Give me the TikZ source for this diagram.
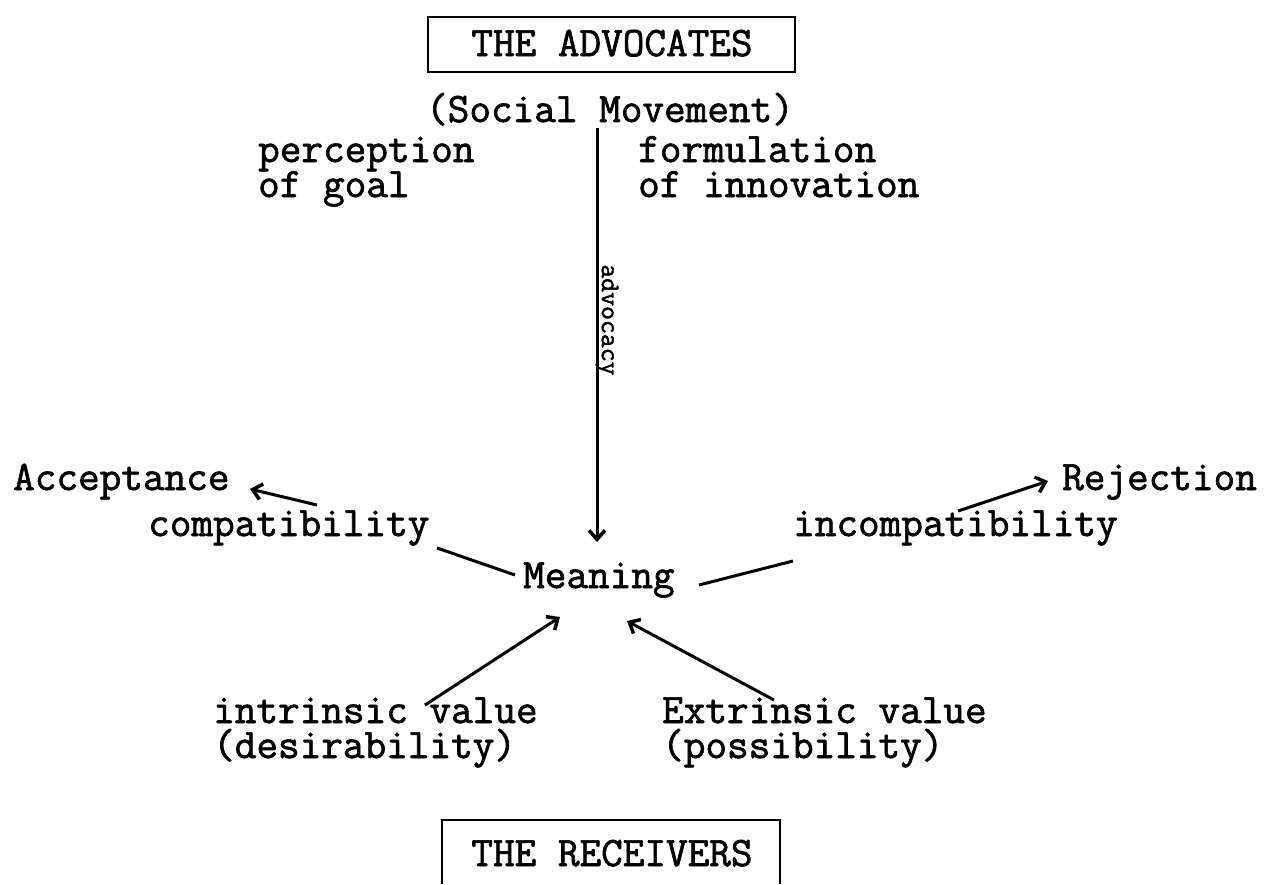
\documentclass[tikz,border=0pt]{standalone}
\usepackage{fontspec}
\usetikzlibrary{arrows.meta}
\newfontfamily\tw{Latin Modern Mono}[FakeBold=1.6]
\newcommand\twbig{\tw\fontsize{42}{35}\selectfont\lineskiplimit-100pt\relax\lineskip0pt\relax}
\begin{document}
\begin{tikzpicture}[x=1pt,y=-1pt,
  txt/.style={inner sep=0pt,font=\twbig},
  small/.style={inner sep=0pt,font=\tw\fontsize{27}{27}\selectfont},
  conn/.style={line width=3pt},
  arr/.style={conn,-{Straight Barb[length=9pt,width=16pt,line width=3.5pt]}},
  boxed/.style={draw,line width=2.5pt,inner sep=0pt}]
\useasboundingbox (0,0) rectangle (1266,884);
% boxes
\node[boxed,minimum width=367pt,minimum height=55pt] (adv) at (611.5,44.5) {};
\node[txt,anchor=base] (advt) at (612,56) {THE ADVOCATES};
\node[txt,anchor=base] (soc) at (610,122) {(Social Movement)};
\node[txt,anchor=base west,align=left] (perc) at (258,197) {perception\\of goal};
\node[txt,anchor=base west,align=left] (form) at (638,197) {formulation\\of innovation};
\node[small,rotate=-90] (advo) at (607,320) {advocacy};
\node[txt,anchor=base west] (acc) at (13,490) {Acceptance};
\node[txt,anchor=base west] (comp) at (148,536) {compatibility};
\node[txt,anchor=base west] (mean) at (523,588) {Meaning};
\node[txt,anchor=base west] (incomp) at (793,536) {incompatibility};
\node[txt,anchor=base west] (rej) at (1062,490) {Rejection};
\node[txt,anchor=base west,align=left] (intr) at (213,758) {intrinsic value\\(desirability)};
\node[txt,anchor=base west,align=left] (extr) at (662,758) {Extrinsic value\\(possibility)};
\draw[line width=2.5pt] (442,884) -- (442,820) -- (780,820) -- (780,884);
\node[txt,anchor=base] (rec) at (612,866) {THE RECEIVERS};
% connector end points
\coordinate (a1) at (597,128);
\coordinate (a2) at (597,542);
\coordinate (c1) at (317,505);
\coordinate (c2) at (250,489);
\coordinate (m1) at (437,548);
\coordinate (m2) at (515,575);
\coordinate (m3) at (699,585);
\coordinate (m4) at (793,561);
\coordinate (r1) at (958,511);
\coordinate (r2) at (1048,481);
\coordinate (i1) at (425,705);
\coordinate (i2) at (560,617);
\coordinate (e1) at (774,700);
\coordinate (e2) at (627,621);
\draw[arr] (a1) -- (a2);
\draw[arr] (c1) -- (c2);
\draw[conn] (m1) -- (m2);
\draw[conn] (m3) -- (m4);
\draw[arr] (r1) -- (r2);
\draw[arr] (i1) -- (i2);
\draw[arr] (e1) -- (e2);
\end{tikzpicture}
\end{document}
